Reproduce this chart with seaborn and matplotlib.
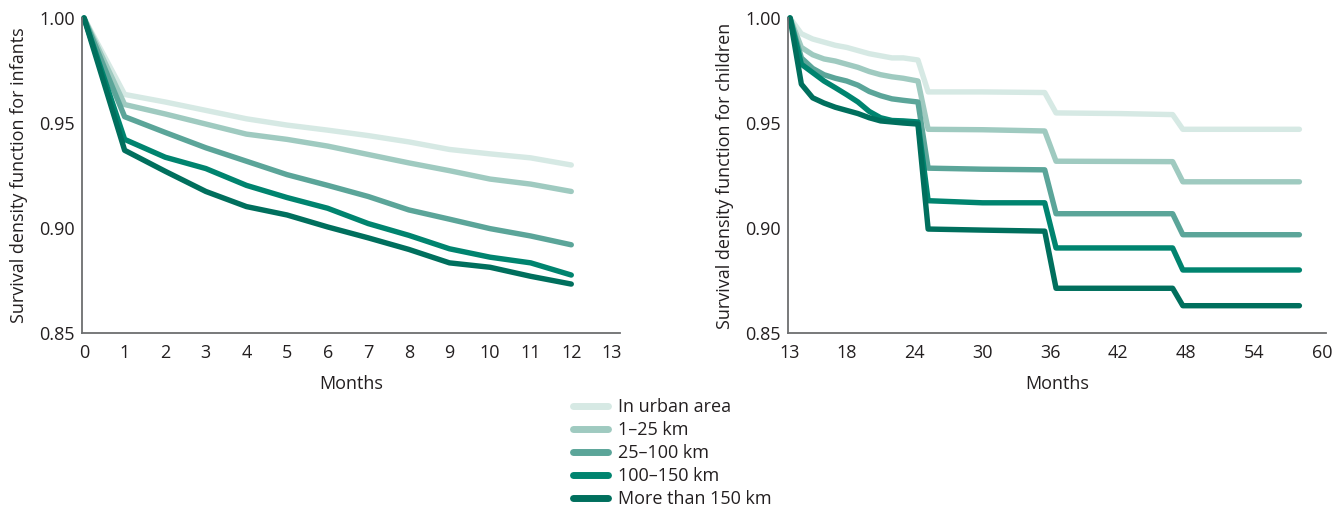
import numpy as np
import pandas as pd
import matplotlib
matplotlib.use("Agg")
import matplotlib.pyplot as plt
import seaborn as sns

# Distance groups and their colours
groups = ["In urban area", "1\u201325 km", "25\u2013100 km", "100\u2013150 km", "More than 150 km"]
colors = ["#d6e9e4", "#9fcac0", "#5ba599", "#00846f", "#006f5d"]

# Infant survival (months 0-12)
infant_months = [0, 1, 2, 3, 4, 5, 6, 7, 8, 9, 10, 11, 12]
infant_urban = [1.000, 0.9636, 0.960, 0.956, 0.952, 0.949, 0.9466, 0.944, 0.941, 0.9374, 0.9353, 0.9334, 0.930]
infant_1_25 = [1.000, 0.9588, 0.9543, 0.9495, 0.9447, 0.9422, 0.939, 0.935, 0.931, 0.9273, 0.9233, 0.9209, 0.9174]
infant_25_100 = [1.000, 0.953, 0.9455, 0.9382, 0.9318, 0.9254, 0.9203, 0.915, 0.9086, 0.9042, 0.8997, 0.8962, 0.892]
infant_100_150 = [1.000, 0.9422, 0.9337, 0.9283, 0.9203, 0.9145, 0.9094, 0.9021, 0.8965, 0.8901, 0.8861, 0.8834, 0.8776]
infant_150 = [1.000, 0.937, 0.927, 0.9174, 0.9102, 0.9062, 0.9005, 0.8953, 0.8898, 0.8834, 0.8813, 0.877, 0.8733]

# Child survival (months 13-58)
child_months = [13, 14, 15, 16, 17, 18, 19, 20, 21, 22, 23, 24.3, 25.2, 30, 35.5, 36.5, 42, 46.8, 47.7, 58]
child_urban = [1.000, 0.9925, 0.990, 0.9885, 0.987, 0.986, 0.9845, 0.983, 0.982, 0.981, 0.981, 0.980,
               0.9648, 0.9648, 0.9645, 0.9548, 0.9545, 0.954, 0.947, 0.947]
child_1_25 = [1.000, 0.986, 0.9825, 0.9805, 0.9795, 0.978, 0.9765, 0.9745, 0.973, 0.972, 0.9713, 0.970,
              0.947, 0.9468, 0.9462, 0.9318, 0.9317, 0.9316, 0.922, 0.922]
child_25_100 = [1.000, 0.981, 0.976, 0.973, 0.9713, 0.970, 0.968, 0.965, 0.963, 0.9615, 0.9608, 0.960,
                0.9285, 0.928, 0.9277, 0.9068, 0.9068, 0.9068, 0.8968, 0.8968]
child_100_150 = [1.000, 0.978, 0.974, 0.970, 0.9668, 0.9635, 0.960, 0.9555, 0.9525, 0.9512, 0.951, 0.9505,
                 0.913, 0.912, 0.912, 0.8905, 0.8905, 0.8905, 0.880, 0.880]
child_150 = [1.000, 0.9685, 0.962, 0.9595, 0.9575, 0.956, 0.9545, 0.9525, 0.951, 0.9505, 0.950, 0.9495,
             0.8995, 0.899, 0.8985, 0.8713, 0.8713, 0.8713, 0.863, 0.863]

infant_series = [infant_urban, infant_1_25, infant_25_100, infant_100_150, infant_150]
child_series = [child_urban, child_1_25, child_25_100, child_100_150, child_150]


def long_frame(months, series):
    rows = []
    for g, vals in zip(groups, series):
        for m, v in zip(months, vals):
            rows.append({"Months": m, "Survival": v, "Group": g})
    return pd.DataFrame(rows)


df_inf = long_frame(infant_months, infant_series)
df_chi = long_frame(child_months, child_series)

sns.set_style("white")
plt.rcParams["font.family"] = ["Open Sans", "DejaVu Sans"]
text_color = "#231f20"
spine_color = "#6d6e70"
fs = 13

fig = plt.figure(figsize=(13.44, 5.11), dpi=100)
ax1 = fig.add_axes([82 / 1344, 178 / 511, 538 / 1344, 315 / 511])
ax2 = fig.add_axes([788 / 1344, 178 / 511, 538 / 1344, 315 / 511])

palette = dict(zip(groups, colors))
line_kw = dict(linewidth=3.9, solid_capstyle="round", solid_joinstyle="round", clip_on=False)

sns.lineplot(data=df_inf, x="Months", y="Survival", hue="Group", hue_order=groups,
             palette=palette, estimator=None, sort=False, legend=False, ax=ax1, **line_kw)
sns.lineplot(data=df_chi, x="Months", y="Survival", hue="Group", hue_order=groups,
             palette=palette, estimator=None, sort=False, legend=False, ax=ax2, **line_kw)

ax1.set_xlim(-0.05, 13.2)
ax1.set_xticks(range(0, 14))
ax2.set_xlim(12.82, 60.35)
ax2.set_xticks([13, 18, 24, 30, 36, 42, 48, 54, 60])

for ax, ylab in [(ax1, "Survival density function for infants"),
                 (ax2, "Survival density function for children")]:
    ax.set_ylim(0.85, 1.0)
    ax.set_yticks([0.85, 0.90, 0.95, 1.00])
    ax.set_yticklabels(["0.85", "0.90", "0.95", "1.00"])
    ax.set_xlabel("Months", fontsize=fs, color=text_color, labelpad=9)
    ax.set_ylabel(ylab, fontsize=fs, color=text_color, labelpad=8)
    ax.tick_params(axis="x", length=0, labelsize=fs, colors=text_color, pad=8)
    ax.tick_params(axis="y", length=0, labelsize=fs, colors=text_color, pad=5)
    for s in ["top", "right"]:
        ax.spines[s].set_visible(False)
    for s in ["left", "bottom"]:
        ax.spines[s].set_color(spine_color)
        ax.spines[s].set_linewidth(1.3)
    ax.grid(False)

handles = [plt.Line2D([], [], color=c, linewidth=5, solid_capstyle="round") for c in colors]
fig.legend(handles, groups, loc="upper left", bbox_to_anchor=(563.5 / 1344, 1 - 389 / 511),
           frameon=False, fontsize=fs, handlelength=1.95, handletextpad=0.58,
           labelspacing=0.28, borderpad=0, labelcolor=text_color)

fig.savefig("out.png", dpi=100)
